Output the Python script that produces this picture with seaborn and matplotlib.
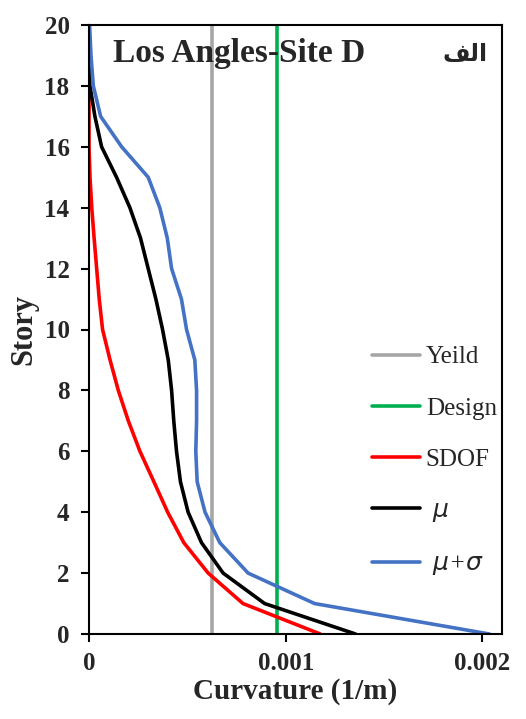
import matplotlib
matplotlib.use("Agg")
import matplotlib.pyplot as plt
import seaborn as sns
import pandas as pd

stories = list(range(0, 21))
sdof = [0.001176, 0.000783, 0.000606, 0.000482, 0.000400, 0.000330, 0.000259, 0.000200,
        0.000149, 0.000107, 0.000069, 0.000052, 0.000039, 0.000026, 0.000014, 0.000005,
        0.0, 0.0, 0.0, 0.0, 0.0]
mu = [0.001355, 0.000893, 0.000682, 0.000572, 0.000504, 0.000465, 0.000445, 0.000431,
      0.000420, 0.000403, 0.000374, 0.000340, 0.000301, 0.000262, 0.000208, 0.000140,
      0.000064, 0.000030, 0.000005, 0.0, 0.0]
mu_sigma = [0.002036, 0.001147, 0.000809, 0.000665, 0.000590, 0.000550, 0.000543, 0.000547,
            0.000547, 0.000538, 0.000496, 0.000470, 0.000420, 0.000398, 0.000360, 0.000301,
            0.000166, 0.000059, 0.000022, 0.000010, 0.000003]
yield_curv = 0.000623
design_curv = 0.000958

series_names = ["Yeild", "Design", "SDOF", " $\\mu$", " $\\mu$+$\\sigma$"]
colors = ["#A6A6A6", "#00B050", "#FF0000", "#000000", "#4472C4"]
x_ticks = [0, 0.001, 0.002]
x_tick_labels = ["0", "0.001", "0.002"]
y_ticks = list(range(0, 21, 2))

sns.set_style("white")
plt.rcParams["font.family"] = ["Liberation Serif", "DejaVu Sans"]
plt.rcParams["mathtext.fontset"] = "dejavusans"

fig = plt.figure(figsize=(5.26, 7.19), dpi=100)
ax = fig.add_axes([89 / 526, 1 - 634 / 719, 413 / 526, 609 / 719])

LW = 2.6
vert = pd.DataFrame({"x": [yield_curv, yield_curv], "y": [0, 20]})
sns.lineplot(data=vert, x="x", y="y", orient="y", ax=ax, color=colors[0], lw=LW, label=series_names[0])
vert2 = pd.DataFrame({"x": [design_curv, design_curv], "y": [0, 20]})
sns.lineplot(data=vert2, x="x", y="y", orient="y", ax=ax, color=colors[1], lw=LW, label=series_names[1])
for vals, name, c in zip([sdof, mu, mu_sigma], series_names[2:], colors[2:]):
    df = pd.DataFrame({"x": vals, "y": stories})
    sns.lineplot(data=df, x="x", y="y", orient="y", ax=ax, color=c, lw=LW, label=name)

ax.set_xlim(0, 0.0021)
ax.set_ylim(0, 20)
ax.set_xticks(x_ticks)
ax.set_xticklabels(x_tick_labels)
ax.set_yticks(y_ticks)
for lab in ax.get_xticklabels() + ax.get_yticklabels():
    lab.set_fontsize(18)
    lab.set_fontweight("bold")
ax.tick_params(axis="both", which="major", bottom=True, left=True, direction="out",
               length=6, width=1.5, color="black")
ax.tick_params(axis="y", pad=8)
ax.tick_params(axis="x", pad=7)
for s in ax.spines.values():
    s.set_color("black")
    s.set_linewidth(1.5)

ax.set_xlabel("Curvature (1/m)", fontsize=21, fontweight="bold", labelpad=2)
ax.set_ylabel("Story", fontsize=22, fontweight="bold", labelpad=4)

ax.text(0.058, 0.954, "Los Angles-Site D", transform=ax.transAxes, fontsize=24,
        fontweight="bold", va="center", ha="left")
ax.text(0.964, 0.952, "\uFED2\uFEDF\uFE8D", transform=ax.transAxes, fontsize=17,
        fontweight="bold", va="center", ha="right", family=["DejaVu Sans"])

leg = ax.legend(loc="center left", bbox_to_anchor=(0.631, 0.283), frameon=False,
                fontsize=18, handlelength=1.9, handletextpad=0.25, labelspacing=1.15)
for t in leg.get_texts()[3:]:
    t.set_fontstyle("italic")

fig.savefig("out.png", dpi=100)
